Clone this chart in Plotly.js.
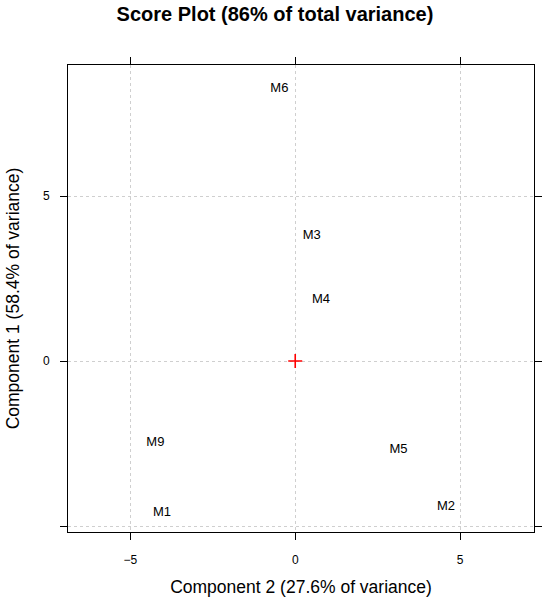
<!DOCTYPE html>
<html>
<head>
<meta charset="utf-8">
<script src="https://cdn.plot.ly/plotly-3.0.1.min.js"></script>
<style>html,body{margin:0;padding:0;background:#fff;}#chart{width:550px;height:604px;}</style>
</head>
<body>
<div id="chart"></div>
<script>
const labels = ["M6", "M3", "M4", "M9", "M5", "M1", "M2"];
const comp2 = [-0.48, 0.50, 0.78, -4.24, 3.13, -4.04, 4.57];
const comp1 = [8.26, 3.79, 1.87, -2.48, -2.70, -4.60, -4.42];
const originX = [0];
const originY = [0];
const xTicks = [-5, 0, 5];
const yTicks = [-5, 0, 5];
const yTickText = ["", "0", "5"];

const FONT = "Arial, 'Liberation Sans', sans-serif";

const traces = [
  {
    x: comp2, y: comp1, text: labels, mode: "text", type: "scatter",
    textposition: "middle center",
    textfont: {family: FONT, size: 13, color: "#000"},
    hoverinfo: "text", showlegend: false
  },
  {
    x: originX, y: originY, mode: "markers", type: "scatter",
    marker: {symbol: "cross-thin", size: 10, line: {color: "#ff0000", width: 1.6}},
    showlegend: false
  }
];

const axisCommon = {
  showline: true, linecolor: "#000", linewidth: 1, mirror: "allticks",
  ticks: "outside", ticklen: 7, tickcolor: "#000", tickwidth: 1,
  showgrid: true, gridcolor: "#cfcfcf", griddash: "dot", gridwidth: 1,
  zeroline: false, tickfont: {family: FONT, size: 12, color: "#000"}
};

const layout = {
  width: 550, height: 604,
  margin: {l: 67.5, r: 16, t: 65, b: 72},
  paper_bgcolor: "#fff", plot_bgcolor: "#fff",
  title: {text: "<b>Score Plot (86% of total variance)</b>", x: 0.5, xanchor: "center", y: 0.976, yanchor: "middle",
          font: {family: FONT, size: 20, color: "#000"}},
  xaxis: Object.assign({}, axisCommon, {
    range: [-6.89, 7.24], tickmode: "array", tickvals: xTicks, ticklabelstandoff: 10,
    title: {text: "Component 2 (27.6% of variance)", standoff: 14, font: {family: FONT, size: 17.5, color: "#000"}}
  }),
  yaxis: Object.assign({}, axisCommon, {
    range: [-5.18, 8.97], tickmode: "array", tickvals: yTicks, ticktext: yTickText, ticklabelstandoff: 8,
    title: {text: "Component 1 (58.4% of variance)", standoff: 18, font: {family: FONT, size: 17.5, color: "#000"}}
  })
};

Plotly.newPlot("chart", traces, layout, {displayModeBar: false, staticPlot: true});
</script>
</body>
</html>
